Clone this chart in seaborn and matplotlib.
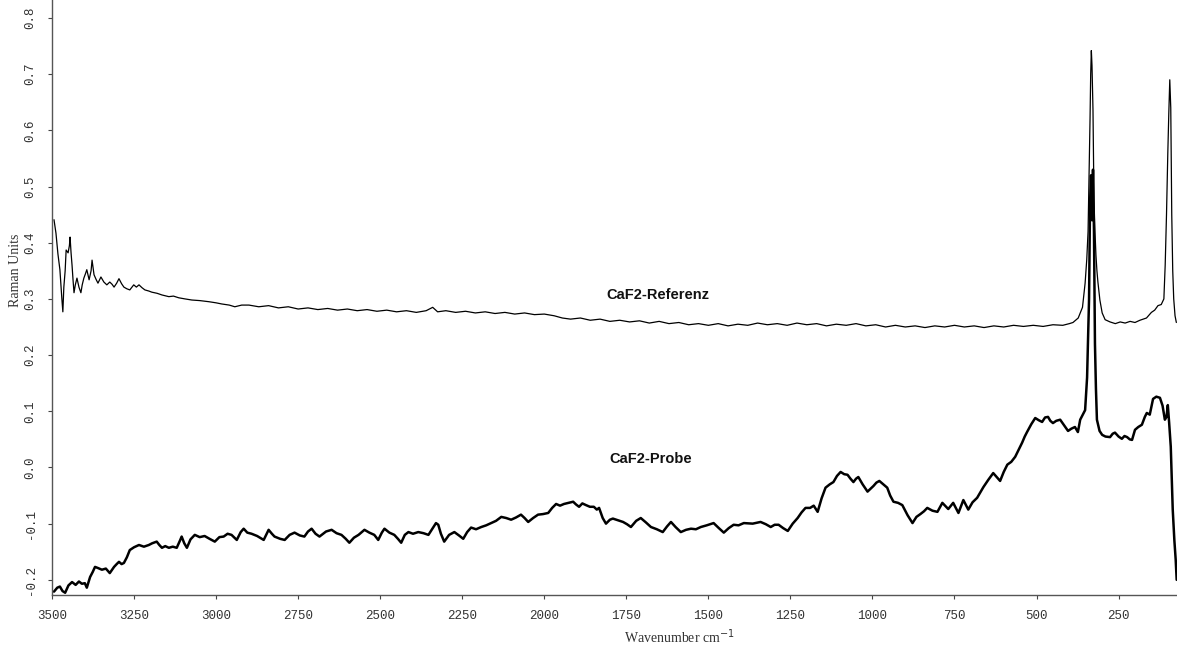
import matplotlib
matplotlib.use("Agg")
import matplotlib.pyplot as plt
import seaborn as sns
import pandas as pd

# CaF2 reference spectrum: wavenumber (cm^-1) and intensity (Raman units)
ref_wn = [3494, 3488, 3482, 3476, 3470, 3467, 3464, 3460, 3457, 3451, 3447, 3445, 3442,
          3439, 3436, 3433, 3429, 3424, 3418, 3412, 3408, 3403, 3398, 3394, 3387, 3381,
          3378, 3372, 3366, 3360, 3351, 3342, 3333, 3324, 3317, 3311, 3303, 3296, 3288,
          3281, 3272, 3263, 3251, 3243, 3235, 3226, 3217, 3205, 3196, 3180, 3165, 3144,
          3130, 3114, 3095, 3074, 3050, 3022, 3000, 2983, 2960, 2943, 2922,
          2900, 2870, 2840, 2810, 2780, 2750, 2720, 2690, 2660, 2630, 2600, 2570, 2540,
          2510, 2480, 2450, 2420, 2390, 2360, 2340, 2325, 2300, 2270, 2240, 2210, 2180,
          2150, 2120, 2090, 2060, 2030, 2000, 1970, 1945, 1920, 1890, 1860, 1830, 1800,
          1770, 1740, 1710, 1680, 1650, 1620, 1590, 1560, 1530, 1500, 1470, 1440, 1410,
          1380, 1350, 1320, 1290, 1260, 1230, 1200, 1170, 1140, 1110, 1080, 1050, 1020,
          990, 960, 930, 900, 870, 840, 810, 780, 750, 720, 690, 660, 630, 600, 570, 540,
          510, 480, 450, 420, 400, 389, 373, 360, 352, 347, 343, 340, 337, 335, 333, 331,
          328, 325, 322, 319, 316, 313, 307, 300, 291, 276, 260, 245, 230, 215, 200, 185,
          165, 150, 140, 130, 120, 112, 108, 104, 100, 97, 94, 91, 88, 85, 82, 78, 74]
ref_int = [0.441, 0.417, 0.380, 0.352, 0.300, 0.277, 0.321, 0.350, 0.387, 0.382, 0.395,
           0.410, 0.382, 0.360, 0.334, 0.311, 0.325, 0.337, 0.321, 0.311, 0.325, 0.337,
           0.345, 0.352, 0.334, 0.350, 0.369, 0.343, 0.335, 0.328, 0.339, 0.330, 0.325,
           0.330, 0.326, 0.321, 0.328, 0.336, 0.327, 0.321, 0.318, 0.316, 0.325, 0.321,
           0.325, 0.320, 0.316, 0.314, 0.312, 0.310, 0.307, 0.304, 0.305, 0.302, 0.300,
           0.298, 0.297, 0.295, 0.293, 0.291, 0.289, 0.286, 0.289,
           0.289, 0.286, 0.288, 0.284, 0.286, 0.282, 0.284, 0.281, 0.283, 0.280, 0.282,
           0.279, 0.281, 0.278, 0.280, 0.277, 0.279, 0.276, 0.279, 0.285, 0.277, 0.279,
           0.276, 0.278, 0.275, 0.277, 0.274, 0.276, 0.273, 0.275, 0.272, 0.273, 0.270,
           0.266, 0.264, 0.266, 0.262, 0.264, 0.260, 0.262, 0.259, 0.261, 0.257, 0.260,
           0.256, 0.258, 0.254, 0.256, 0.253, 0.256, 0.252, 0.255, 0.253, 0.257, 0.254,
           0.256, 0.253, 0.257, 0.254, 0.256, 0.252, 0.255, 0.253, 0.256, 0.252, 0.254,
           0.250, 0.253, 0.250, 0.252, 0.249, 0.252, 0.250, 0.253, 0.250, 0.252, 0.249,
           0.252, 0.250, 0.253, 0.251, 0.253, 0.251, 0.254, 0.253, 0.256, 0.258, 0.266,
           0.285, 0.328, 0.370, 0.420, 0.520, 0.620, 0.700, 0.742, 0.715, 0.636, 0.476,
           0.420, 0.378, 0.350, 0.330, 0.298, 0.275, 0.263, 0.259, 0.256, 0.259, 0.257,
           0.260, 0.258, 0.262, 0.266, 0.276, 0.280, 0.288, 0.290, 0.300, 0.360, 0.450,
           0.560, 0.630, 0.690, 0.640, 0.450, 0.350, 0.300, 0.270, 0.258]

# CaF2 sample spectrum
probe_wn = [3494, 3484, 3476, 3468, 3460, 3450, 3439, 3428, 3418, 3409, 3400, 3394, 3384,
            3376, 3369, 3360, 3348, 3336, 3324, 3311, 3303, 3296, 3288, 3281, 3272, 3263,
            3250, 3235, 3220, 3205, 3195, 3181, 3173, 3165, 3155, 3144, 3132, 3120, 3110,
            3105, 3097, 3089, 3078, 3065, 3050, 3035, 3020, 3004, 2990, 2977, 2965, 2953,
            2937, 2925, 2916, 2905, 2892, 2875, 2855, 2840, 2830, 2822, 2805, 2791, 2776,
            2761, 2745, 2731, 2720, 2709, 2697, 2685, 2665, 2648, 2633, 2618, 2605, 2594,
            2580, 2566, 2548, 2533, 2518, 2506, 2495, 2487, 2472, 2457, 2446, 2436, 2425,
            2414, 2400, 2384, 2368, 2353, 2340, 2330, 2323, 2315, 2305, 2290, 2274, 2260,
            2247, 2235, 2223, 2208, 2192, 2177, 2162, 2147, 2131, 2116, 2101, 2086, 2071,
            2060, 2049, 2034, 2019, 2004, 1988, 1976, 1964, 1952, 1940, 1926, 1912, 1903,
            1894, 1884, 1873, 1861, 1849, 1840, 1833, 1822, 1812, 1800, 1791, 1775, 1760,
            1748, 1736, 1720, 1706, 1690, 1675, 1657, 1639, 1626, 1614, 1600, 1584, 1568,
            1553, 1538, 1523, 1505, 1484, 1468, 1453, 1438, 1423, 1408, 1392, 1365, 1341,
            1325, 1310, 1298, 1286, 1272, 1258, 1243, 1228, 1216, 1204, 1190, 1179, 1167,
            1155, 1143, 1130, 1119, 1108, 1097, 1086, 1076, 1067, 1058, 1050, 1043, 1030,
            1015, 1006, 997, 988, 979, 967, 955, 946, 936, 922, 909, 893, 878, 866, 854,
            843, 833, 817, 802, 787, 769, 754, 738, 723, 708, 695, 681, 662, 647, 632, 620,
            611, 600, 589, 577, 565, 554, 544, 536, 529, 516, 504, 493, 483, 474, 465, 458,
            450, 440, 428, 416, 404, 394, 383, 374, 367, 358, 352, 346, 340, 337, 334, 331,
            328, 325, 322, 319, 316, 308, 300, 290, 276, 268, 261, 250, 240, 232, 224, 216,
            209, 200, 190, 179, 170, 164, 155, 145, 135, 124, 116, 109, 104, 100, 96, 91,
            88, 85, 80, 76, 73]
probe_int = [-0.221, -0.214, -0.212, -0.220, -0.223, -0.210, -0.204, -0.209, -0.203,
             -0.207, -0.206, -0.214, -0.195, -0.186, -0.177, -0.179, -0.182, -0.180,
             -0.188, -0.177, -0.172, -0.168, -0.172, -0.170, -0.160, -0.147, -0.142,
             -0.138, -0.141, -0.138, -0.135, -0.132, -0.138, -0.143, -0.140, -0.143,
             -0.141, -0.143, -0.130, -0.123, -0.135, -0.143, -0.128, -0.120, -0.124,
             -0.122, -0.127, -0.132, -0.124, -0.123, -0.118, -0.120, -0.129, -0.115,
             -0.109, -0.116, -0.118, -0.122, -0.129, -0.111, -0.118, -0.123, -0.127,
             -0.129, -0.120, -0.116, -0.121, -0.123, -0.114, -0.109, -0.118, -0.123,
             -0.114, -0.111, -0.117, -0.120, -0.127, -0.134, -0.125, -0.120, -0.111,
             -0.116, -0.120, -0.129, -0.116, -0.109, -0.116, -0.120, -0.127, -0.134,
             -0.120, -0.115, -0.118, -0.115, -0.117, -0.120, -0.108, -0.099, -0.102,
             -0.118, -0.132, -0.120, -0.115, -0.121, -0.127, -0.115, -0.107, -0.110,
             -0.106, -0.103, -0.099, -0.095, -0.088, -0.090, -0.093, -0.089, -0.084,
             -0.090, -0.097, -0.090, -0.084, -0.083, -0.081, -0.072, -0.065, -0.068,
             -0.065, -0.063, -0.061, -0.066, -0.070, -0.064, -0.067, -0.070, -0.070,
             -0.075, -0.072, -0.090, -0.100, -0.093, -0.091, -0.094, -0.097, -0.101,
             -0.106, -0.095, -0.090, -0.098, -0.106, -0.110, -0.115, -0.105, -0.097,
             -0.106, -0.115, -0.111, -0.109, -0.110, -0.106, -0.103, -0.099, -0.108,
             -0.116, -0.108, -0.102, -0.103, -0.099, -0.100, -0.097, -0.101, -0.106,
             -0.102, -0.102, -0.108, -0.113, -0.100, -0.090, -0.080, -0.072, -0.072,
             -0.068, -0.079, -0.055, -0.036, -0.030, -0.026, -0.015, -0.008, -0.012,
             -0.013, -0.020, -0.026, -0.020, -0.017, -0.030, -0.043, -0.038, -0.033,
             -0.027, -0.024, -0.030, -0.036, -0.050, -0.061, -0.063, -0.067, -0.085,
             -0.099, -0.088, -0.083, -0.078, -0.072, -0.077, -0.079, -0.063, -0.074,
             -0.063, -0.081, -0.058, -0.075, -0.062, -0.054, -0.035, -0.022, -0.010,
             -0.018, -0.024, -0.008, 0.005, 0.010, 0.019, 0.032, 0.044, 0.055, 0.063,
             0.077, 0.088, 0.084, 0.081, 0.089, 0.090, 0.083, 0.079, 0.083, 0.085,
             0.075, 0.065, 0.069, 0.072, 0.063, 0.085, 0.095, 0.102, 0.160, 0.300,
             0.470, 0.520, 0.440, 0.530, 0.420, 0.220, 0.140, 0.085, 0.065, 0.058,
             0.055, 0.054, 0.060, 0.062, 0.055, 0.051, 0.056, 0.054, 0.050, 0.049,
             0.067, 0.072, 0.076, 0.090, 0.097, 0.094, 0.122, 0.126, 0.124, 0.110,
             0.085, 0.090, 0.111, 0.080, 0.037, -0.020, -0.075, -0.130, -0.164, -0.200]

x_ticks = [3500, 3250, 3000, 2750, 2500, 2250, 2000, 1750, 1500, 1250, 1000, 750, 500, 250]
y_ticks = [-0.2, -0.1, 0.0, 0.1, 0.2, 0.3, 0.4, 0.5, 0.6, 0.7, 0.8]

sns.set_theme(style="white")
plt.rcParams["font.family"] = ["Liberation Mono", "DejaVu Sans"]

fig = plt.figure(figsize=(11.77, 6.48), dpi=100)
ax = fig.add_axes([0.0442, 0.0818, 0.9558, 0.9182])

ref_df = pd.DataFrame({"wn": ref_wn, "val": ref_int})
probe_df = pd.DataFrame({"wn": probe_wn, "val": probe_int})

sns.lineplot(data=ref_df, x="wn", y="val", ax=ax, color="black", linewidth=0.9,
             estimator=None, sort=False)
sns.lineplot(data=probe_df, x="wn", y="val", ax=ax, color="black", linewidth=1.8,
             estimator=None, sort=False)

ax.set_xlim(3500, 72)
ax.set_ylim(-0.227, 0.832)

ax.set_xticks(x_ticks)
ax.set_xticklabels([str(t) for t in x_ticks], fontsize=9, color="#333333")
ax.set_yticks(y_ticks)
ax.set_yticklabels([f"{t:.1f}" for t in y_ticks], fontsize=9, color="#333333",
                   rotation=90, va="center")
ax.tick_params(axis="both", direction="out", length=3, width=0.8, color="#444444",
               bottom=True, left=True)
ax.tick_params(axis="x", pad=8)
ax.tick_params(axis="y", pad=8)

for side in ("top", "right"):
    ax.spines[side].set_visible(False)
for side in ("left", "bottom"):
    ax.spines[side].set_color("#555555")
    ax.spines[side].set_linewidth(1.0)

ax.set_xlabel("Wavenumber cm$^{-1}$", family="Liberation Serif", fontsize=10,
              color="#333333")
ax.xaxis.set_label_coords(0.558, -0.055)
ax.set_ylabel("Raman Units", family="Liberation Serif", fontsize=10, color="#333333")
ax.yaxis.set_label_coords(-0.027, 0.545)

ax.text(1654, 0.307, "CaF2-Referenz", family="Liberation Sans", fontweight="bold",
        fontsize=10.5, ha="center", va="center", color="#111111")
ax.text(1675, 0.015, "CaF2-Probe", family="Liberation Sans", fontweight="bold",
        fontsize=10.5, ha="center", va="center", color="#111111")

fig.savefig("out.png", dpi=100, facecolor="white")
